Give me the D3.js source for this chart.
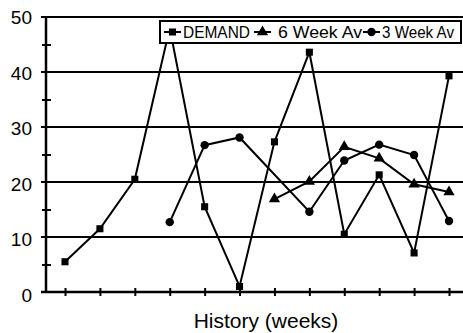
<!DOCTYPE html>
<html>
<head>
<meta charset="utf-8">
<script src="https://cdn.jsdelivr.net/npm/d3@7"></script>
<style>
  body { margin: 0; background: #fff; }
  text { font-family: "Liberation Sans", Arial, sans-serif; fill: #000; }
</style>
</head>
<body>
<script>
// Data
var weeks = [1, 2, 3, 4, 5, 6, 7, 8, 9, 10, 11, 12];
var demand = [5.5, 11.5, 20.5, 48, 15.5, 1, 27.3, 43.6, 10.5, 21.3, 7.1, 39.3];
var sixWeekAv = [null, null, null, null, null, null, 16.9, 20.1, 26.4, 24.3, 19.6, 18.2];
var threeWeekAv = [null, null, null, 12.7, 26.7, 28.1, null, 14.6, 23.9, 26.8, 24.9, 12.9];
var yTicks = [0, 10, 20, 30, 40, 50];
var yMinorTicks = [5, 15, 25, 35, 45];

var width = 463;
var height = 333;

var svg = d3.select('body').append('svg')
  .attr('width', width)
  .attr('height', height);

var x = d3.scalePoint()
  .domain(weeks)
  .range([65, 449]);

var y = d3.scaleLinear()
  .domain([0, 50])
  .range([292, 17]);

// horizontal grid lines (these also act as the major ticks)
svg.selectAll('line.grid')
  .data(yTicks.slice(1))
  .enter()
  .append('line')
  .attr('class', 'grid')
  .attr('x1', 41)
  .attr('x2', width)
  .attr('y1', d => y(d))
  .attr('y2', d => y(d))
  .attr('stroke', '#000')
  .attr('stroke-width', 2);

// y axis, minor ticks cross the axis line
var yAxis = d3.axisLeft(y)
  .tickValues(yMinorTicks)
  .tickSize(4)
  .tickFormat('');
var gy = svg.append('g')
  .attr('transform', 'translate(46,0)')
  .call(yAxis);
gy.select('.domain').remove();
gy.selectAll('.tick line')
  .attr('x1', -4).attr('x2', 5)
  .attr('stroke-width', 2);

svg.append('line')
  .attr('x1', 46).attr('x2', 46)
  .attr('y1', y(50)).attr('y2', y(0))
  .attr('stroke', '#000').attr('stroke-width', 2.5);

svg.selectAll('text.ylab')
  .data(yTicks)
  .enter()
  .append('text')
  .attr('class', 'ylab')
  .attr('x', 32)
  .attr('y', d => y(d) + 7 + (50 - d) * 0.06)
  .attr('text-anchor', 'end')
  .style('font-size', '19px')
  .text(d => d);

// x axis
var xAxis = d3.axisBottom(x)
  .tickSize(4)
  .tickFormat('');
var gx = svg.append('g')
  .attr('transform', 'translate(0,' + y(0) + ')')
  .call(xAxis);
gx.select('.domain').remove();
gx.selectAll('.tick line')
  .attr('y1', -4).attr('y2', 4)
  .attr('stroke-width', 2);

svg.append('line')
  .attr('x1', 41).attr('x2', width)
  .attr('y1', y(0)).attr('y2', y(0))
  .attr('stroke', '#000').attr('stroke-width', 2.5);

svg.append('text')
  .attr('x', 266)
  .attr('y', 328)
  .attr('text-anchor', 'middle')
  .style('font-size', '21px')
  .text('History (weeks)');

// series
var series = [
  { name: 'DEMAND', values: demand, shape: d3.symbolSquare, size: 50 },
  { name: '6 Week Av', values: sixWeekAv, shape: d3.symbolTriangle, size: 55 },
  { name: '3 Week Av', values: threeWeekAv, shape: d3.symbolCircle, size: 55 }
];

var line = d3.line()
  .x(d => x(d.week))
  .y(d => y(d.value));

series.forEach(function(s) {
  var pts = weeks.map((w, i) => ({ week: w, value: s.values[i] }))
    .filter(d => d.value != null);

  svg.append('path')
    .datum(pts)
    .attr('d', line)
    .attr('fill', 'none')
    .attr('stroke', '#000')
    .attr('stroke-width', 2);

  svg.selectAll(null)
    .data(pts)
    .enter()
    .append('path')
    .attr('transform', d => 'translate(' + x(d.week) + ',' + y(d.value) + ')')
    .attr('d', d3.symbol().type(s.shape).size(s.size))
    .attr('fill', '#000');
});

// legend (drawn over the demand peak)
var legend = svg.append('g');
legend.append('rect')
  .attr('x', 160).attr('y', 21)
  .attr('width', 301).attr('height', 22)
  .attr('fill', '#fff')
  .attr('stroke', '#000')
  .attr('stroke-width', 2);

var legendX = [164, 254, 363];
var legendTextW = [67, 84, 72];
series.forEach(function(s, i) {
  var lx = legendX[i];
  legend.append('line')
    .attr('x1', lx).attr('x2', lx + 17)
    .attr('y1', 32).attr('y2', 32)
    .attr('stroke', '#000').attr('stroke-width', 2);
  legend.append('path')
    .attr('transform', 'translate(' + (lx + 8.5) + ',32)')
    .attr('d', d3.symbol().type(s.shape).size(s.size))
    .attr('fill', '#000');
  legend.append('text')
    .attr('x', lx + (i == 1 ? 24 : 19))
    .attr('y', 38)
    .attr('textLength', legendTextW[i])
    .attr('lengthAdjust', 'spacingAndGlyphs')
    .style('font-size', '16px')
    .text(s.name);
});
</script>
</body>
</html>
